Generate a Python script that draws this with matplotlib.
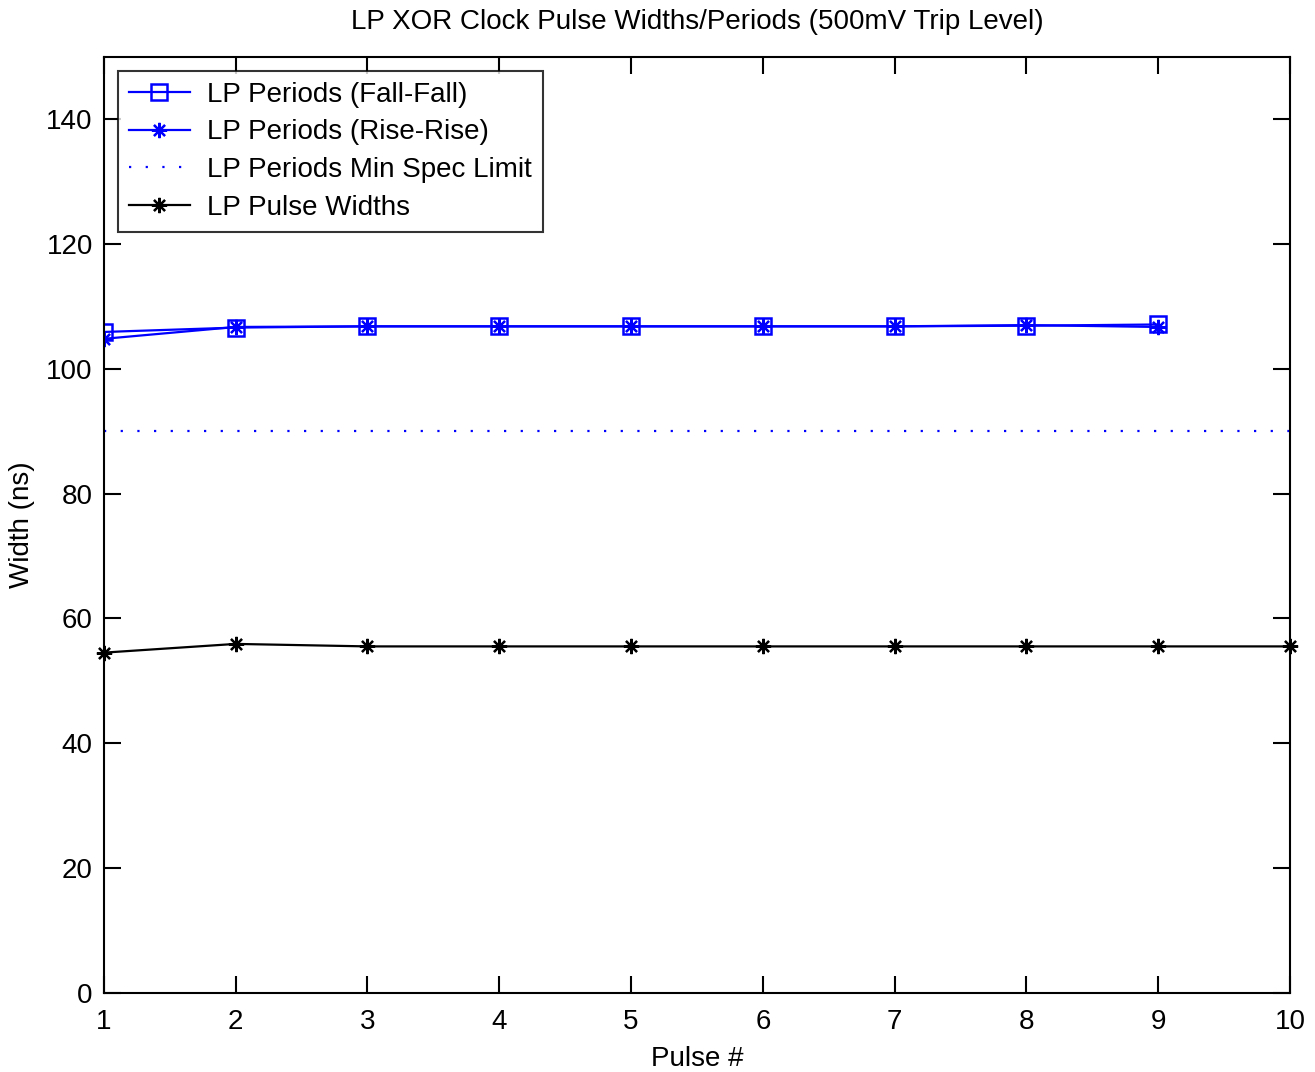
import matplotlib
matplotlib.use('Agg')
import matplotlib.pyplot as plt
import numpy as np

plt.rcParams['font.family'] = ['Liberation Sans', 'DejaVu Sans']
plt.rcParams['font.size'] = 20

# period measurements (ns), pulses 1..9
pulse_p = np.arange(1, 10)
fall_fall = [105.9, 106.6, 106.8, 106.8, 106.8, 106.8, 106.8, 106.9, 107.1]
rise_rise = [104.8, 106.7, 106.8, 106.8, 106.8, 106.8, 106.8, 107.0, 106.7]

# pulse widths (ns), pulses 1..10
pulse_w = np.arange(1, 11)
widths = [54.5, 55.9, 55.5, 55.5, 55.5, 55.5, 55.5, 55.5, 55.5, 55.5]

spec_x = [1, 10]
spec_limit = 90

fig = plt.figure(figsize=(13.15, 10.72), dpi=100)
ax = fig.add_axes([0.079, 0.074, 0.902, 0.873])

star = (8, 2, 0)
ax.plot(pulse_p, fall_fall, color='#0000ff', lw=1.6, marker='s', ms=12,
        mfc='none', mec='#0000ff', mew=1.8, label='LP Periods (Fall-Fall)')
ax.plot(pulse_p, rise_rise, color='#0000ff', lw=1.6, marker=star, ms=11,
        mew=1.6, label='LP Periods (Rise-Rise)')
ax.plot(spec_x, [spec_limit, spec_limit], color='#0000ff', lw=1.6,
        ls=(0, (1, 6.5)), label='LP Periods Min Spec Limit')
ax.plot(pulse_w, widths, color='black', lw=1.6, marker=star, ms=11,
        mew=1.6, label='LP Pulse Widths', clip_on=False)

ax.set_xlim(1, 10)
ax.set_ylim(0, 150)
ax.set_xticks(range(1, 11))
ax.set_yticks(range(0, 141, 20))
ax.tick_params(direction='in', top=True, right=True, length=12, width=1.5)
ax.tick_params(axis='x', pad=12)
ax.tick_params(axis='y', pad=8)
for s in ax.spines.values():
    s.set_linewidth(1.5)

ax.set_title('LP XOR Clock Pulse Widths/Periods (500mV Trip Level)', fontsize=20, pad=20)
ax.set_xlabel('Pulse #', labelpad=8)
ax.set_ylabel('Width (ns)', labelpad=8)

leg = ax.legend(loc='upper left', fancybox=False, edgecolor='black',
                handlelength=2.2, borderaxespad=0.5, labelspacing=0.42,
                handletextpad=0.6, fontsize=20)
leg.get_frame().set_linewidth(1.5)

fig.savefig('out.png', dpi=100)
